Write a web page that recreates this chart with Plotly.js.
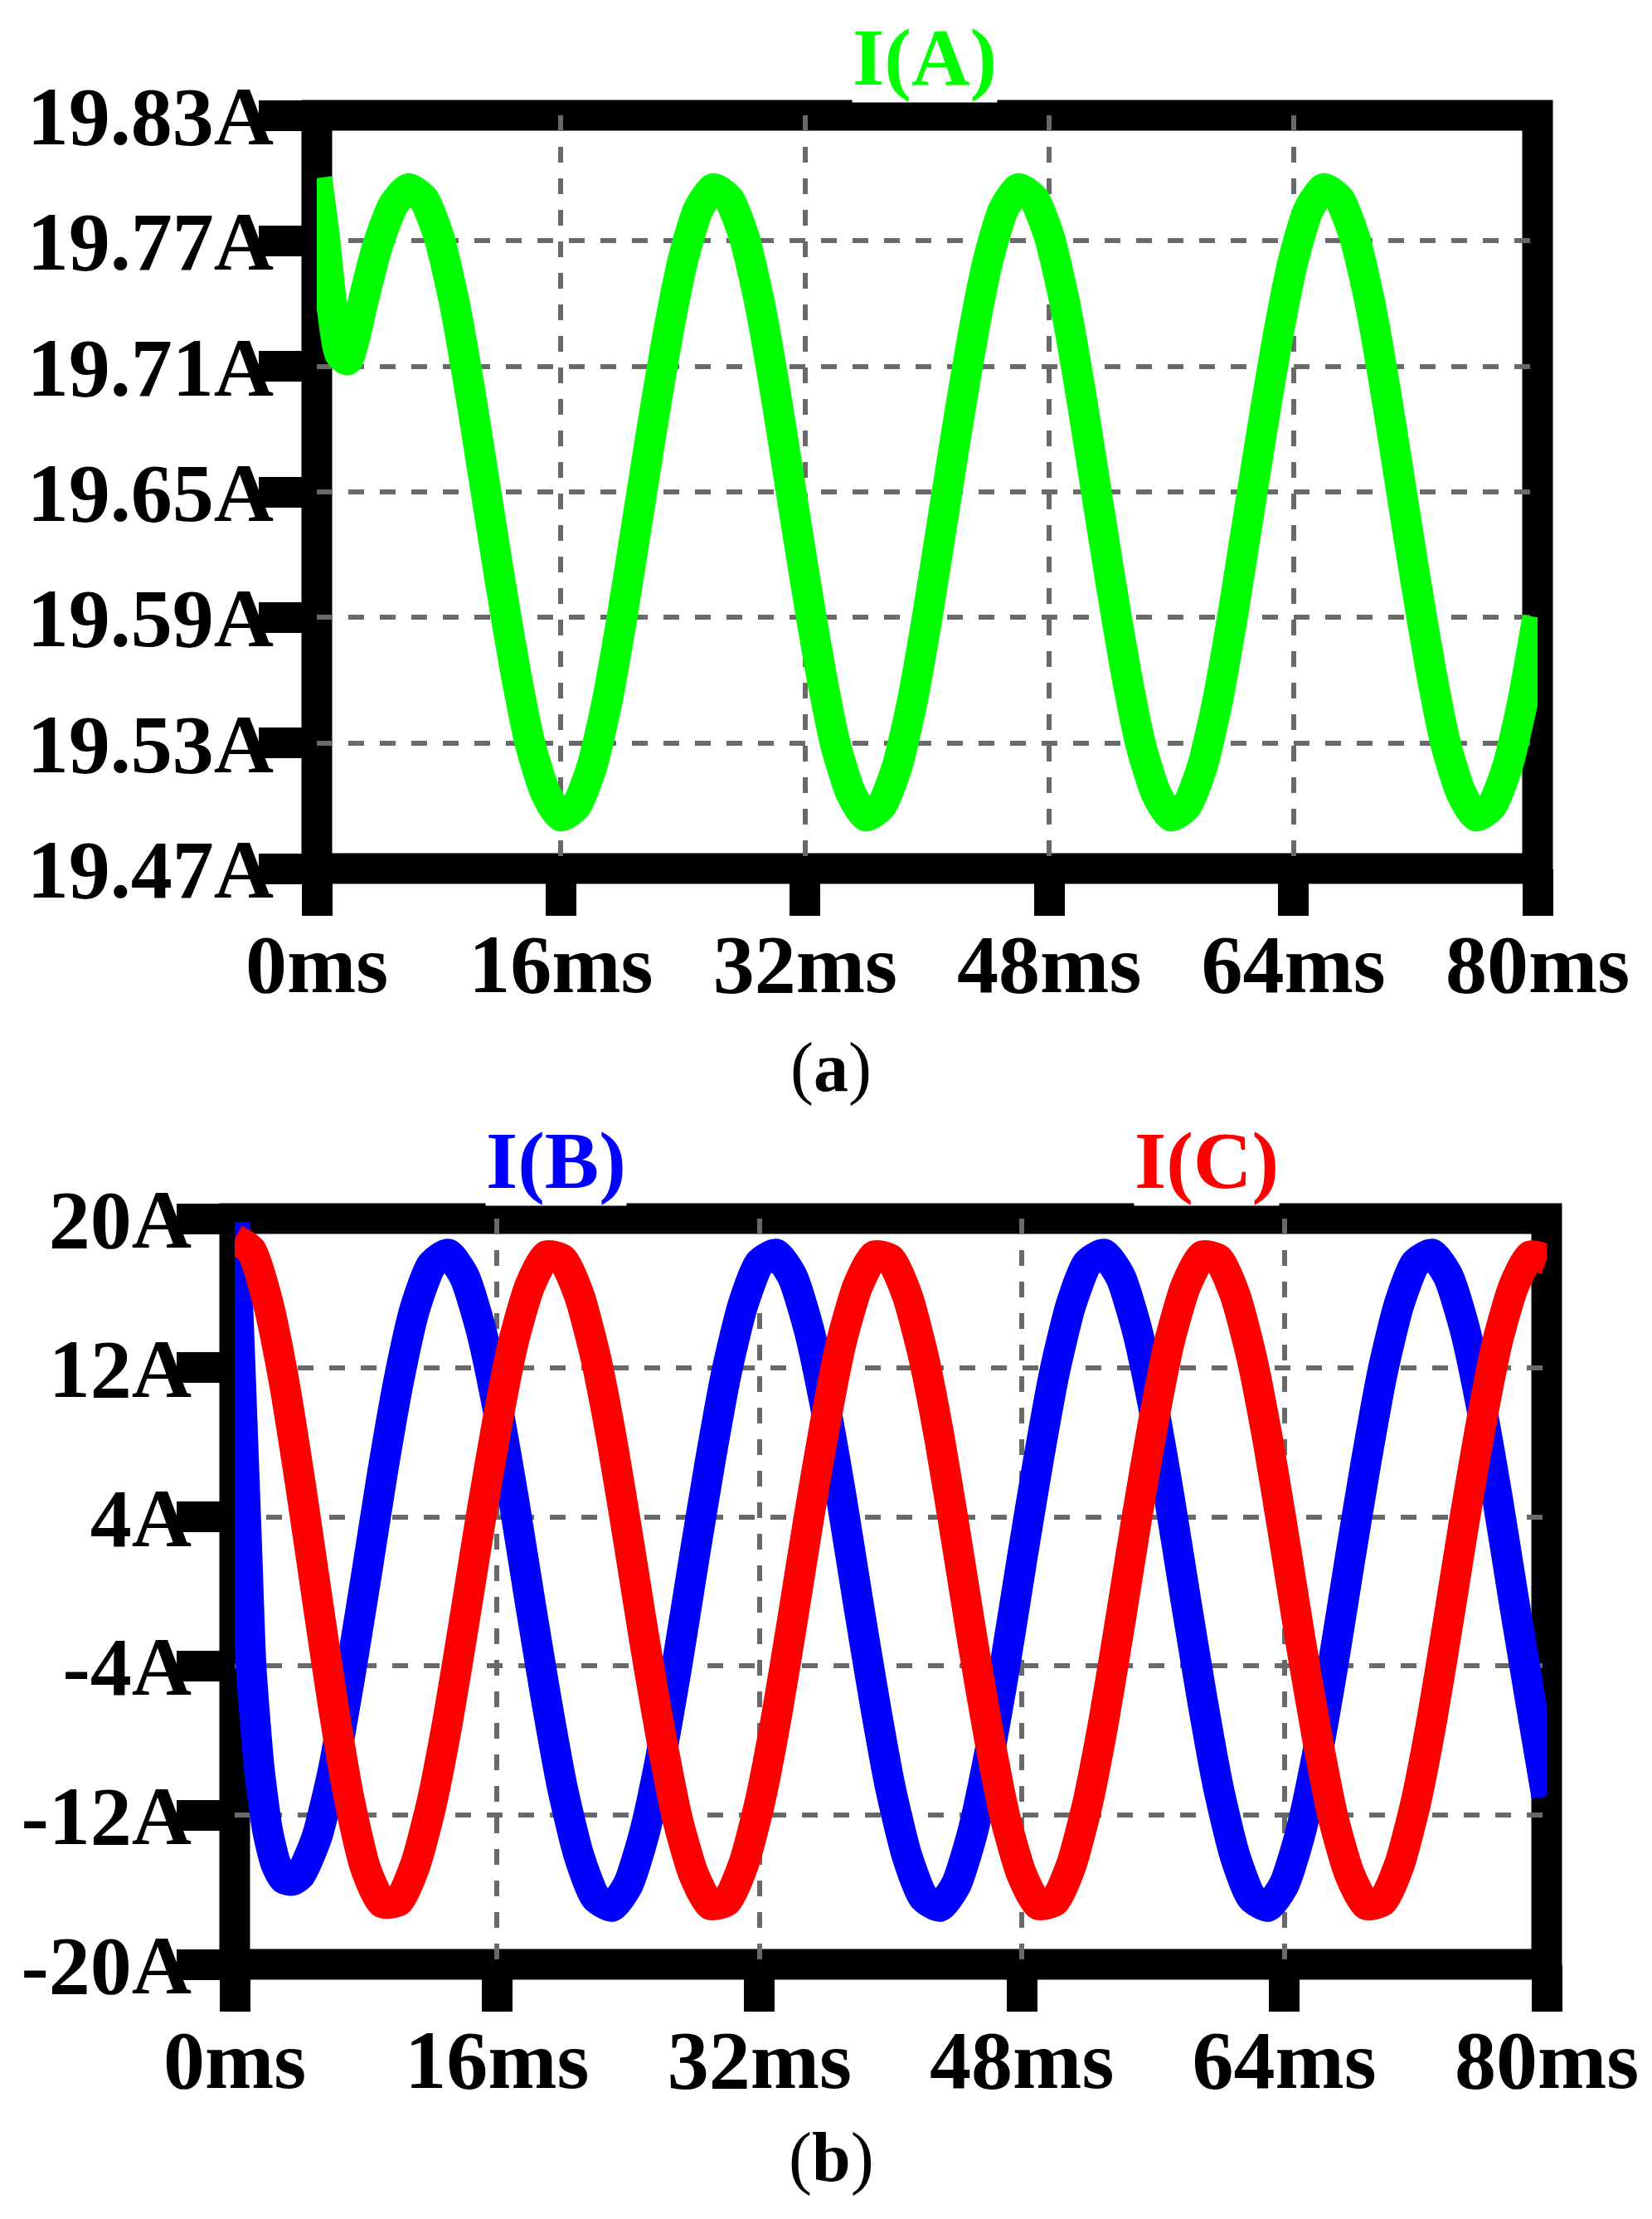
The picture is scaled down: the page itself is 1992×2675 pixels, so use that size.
<!DOCTYPE html>
<html>
<head>
<meta charset="utf-8">
<script src="https://cdn.plot.ly/plotly-3.0.1.min.js"></script>
<style>
  html, body { margin: 0; padding: 0; background: #fff; }
  #chart { width: 1992px; height: 2675px; }
</style>
</head>
<body>
<div id="chart"></div>
<script>
// panel (a): phase A current
const timeA = [0, 0.5, 1, 1.5, 2, 2.5, 3, 4, 5, 6, 7, 8, 9, 10, 11, 12, 13, 14, 15, 16, 17, 18, 19, 20,
  21, 22, 23, 24, 25, 26, 27, 28, 29, 30, 31, 32, 33, 34, 35, 36, 37, 38, 39, 40,
  41, 42, 43, 44, 45, 46, 47, 48, 49, 50, 51, 52, 53, 54, 55, 56, 57, 58, 59, 60,
  61, 62, 63, 64, 65, 66, 67, 68, 69, 70, 71, 72, 73, 74, 75, 76, 77, 78, 79, 80]
const currentA = [19.800, 19.772, 19.738, 19.716, 19.713, 19.724, 19.740, 19.768, 19.787, 19.795,
  19.790, 19.772, 19.741, 19.700, 19.654, 19.608, 19.565, 19.529, 19.506, 19.495,
  19.500, 19.518, 19.549, 19.590, 19.636, 19.682, 19.725, 19.761, 19.785, 19.795,
  19.790, 19.772, 19.741, 19.700, 19.654, 19.608, 19.565, 19.529, 19.506, 19.495,
  19.500, 19.518, 19.549, 19.590, 19.636, 19.682, 19.725, 19.761, 19.785, 19.795,
  19.790, 19.772, 19.741, 19.700, 19.654, 19.608, 19.565, 19.529, 19.506, 19.495,
  19.500, 19.518, 19.549, 19.590, 19.636, 19.682, 19.725, 19.761, 19.785, 19.795,
  19.790, 19.772, 19.741, 19.700, 19.654, 19.608, 19.565, 19.529, 19.506, 19.495,
  19.500, 19.518, 19.549, 19.590]

// panel (b): phases B and C
const timeB = [0, 0.25, 0.5, 0.75, 1, 1.5, 2, 2.5, 3, 3.5, 4, 5, 6, 7, 8, 9, 10,
  11, 12, 13, 14, 15, 16, 17, 18, 19, 20, 21, 22, 23, 24, 25, 26, 27, 28, 29, 30,
  31, 32, 33, 34, 35, 36, 37, 38, 39, 40, 41, 42, 43, 44, 45, 46, 47, 48, 49, 50,
  51, 52, 53, 54, 55, 56, 57, 58, 59, 60, 61, 62, 63, 64, 65, 66, 67, 68, 69, 70,
  71, 72, 73, 74, 75, 76, 77, 78, 79, 80]
const currentB = [19.8, 14, 8, 2, -4, -9.5, -12.8, -14.6, -15.4, -15.5, -15.2, -13.2, -9.6, -4.7, 0.7, 6.3, 11.3,
  15.2, 17.5, 18.1, 16.9, 14.1, 10.0, 5.0, -0.5, -5.8, -10.6, -14.2, -16.4, -16.9, -15.7, -12.9, -8.8, -3.8, 1.7, 7.0, 11.8,
  15.4, 17.6, 18.1, 16.9, 14.1, 10.0, 5.0, -0.5, -5.8, -10.6, -14.2, -16.4, -16.9, -15.7, -12.9, -8.8, -3.8, 1.7, 7.0, 11.8,
  15.4, 17.6, 18.1, 16.9, 14.1, 10.0, 5.0, -0.5, -5.8, -10.6, -14.2, -16.4, -16.9, -15.7, -12.9, -8.8, -3.8, 1.7, 7.0, 11.8,
  15.4, 17.6, 18.1, 16.9, 14.1, 10.0, 5.0, -0.5, -5.8, -11.0]

const timeC = [0, 1, 2, 3, 4, 5, 6, 7, 8, 9, 10, 11, 12, 13, 14, 15, 16, 17, 18, 19, 20,
  21, 22, 23, 24, 25, 26, 27, 28, 29, 30, 31, 32, 33, 34, 35, 36, 37, 38, 39, 40,
  41, 42, 43, 44, 45, 46, 47, 48, 49, 50, 51, 52, 53, 54, 55, 56, 57, 58, 59, 60,
  61, 62, 63, 64, 65, 66, 67, 68, 69, 70, 71, 72, 73, 74, 75, 76, 77, 78, 79, 80]
const currentC = [18.9, 18.3, 15.6, 11.3, 5.8, -0.2, -6.1, -11.2, -14.9, -16.7,
  -16.6, -14.7, -11.4, -6.9, -1.6, 3.9, 9.0, 13.4, 16.4, 18.0,
  17.8, 15.9, 12.6, 8.1, 2.8, -2.7, -7.8, -12.2, -15.2, -16.8,
  -16.6, -14.7, -11.4, -6.9, -1.6, 3.9, 9.0, 13.4, 16.4, 18.0,
  17.8, 15.9, 12.6, 8.1, 2.8, -2.7, -7.8, -12.2, -15.2, -16.8,
  -16.6, -14.7, -11.4, -6.9, -1.6, 3.9, 9.0, 13.4, 16.4, 18.0,
  17.8, 15.9, 12.6, 8.1, 2.8, -2.7, -7.8, -12.2, -15.2, -16.8,
  -16.6, -14.7, -11.4, -6.9, -1.6, 3.9, 9.0, 13.4, 16.4, 18.0, 17.8]

// tick labels
const msTicks = [0, 16, 32, 48, 64, 80]
const msLabels = ["0ms", "16ms", "32ms", "48ms", "64ms", "80ms"]
const ampTicksA = [19.47, 19.53, 19.59, 19.65, 19.71, 19.77, 19.83]
const ampLabelsA = ["19.47A", "19.53A", "19.59A", "19.65A", "19.71A", "19.77A", "19.83A"]
const ampTicksB = [-20, -12, -4, 4, 12, 20]
const ampLabelsB = ["-20A", "-12A", "-4A", "4A", "12A", "20A"]

const W = 1992
const H = 2675
const FRAME = 37

function createChart() {
    const tickFont = { family: "Liberation Serif", size: 100, color: "#000", weight: "bold" }

    function timeAxis(left, right, anchor) {
        return {
            domain: [left / W, right / W],
            range: [0, 80],
            anchor: anchor,
            tickvals: msTicks,
            ticktext: msLabels,
            ticks: "outside",
            ticklen: 56,
            tickwidth: FRAME,
            tickcolor: "#000",
            ticklabelstandoff: -28,
            tickfont: tickFont,
            showgrid: true,
            gridcolor: "#696969",
            gridwidth: 6,
            griddash: "19px,19px",
            zeroline: false,
            showline: false,
            fixedrange: true
        }
    }

    function ampAxis(top, bottom, range, vals, labels, anchor) {
        return {
            domain: [1 - bottom / H, 1 - top / H],
            range: range,
            anchor: anchor,
            tickvals: vals,
            ticktext: labels,
            ticks: "outside",
            ticklen: 69,
            tickwidth: FRAME,
            tickcolor: "#000",
            ticklabelstandoff: -38,
            tickfont: tickFont,
            showgrid: true,
            gridcolor: "#696969",
            gridwidth: 6,
            griddash: "19px,19px",
            zeroline: false,
            showline: false,
            fixedrange: true
        }
    }

    const traceA = {
        x: timeA, y: currentA, xaxis: "x", yaxis: "y",
        mode: "lines", line: { color: "#00ff00", width: 37, shape: "spline", smoothing: 0.6 },
        name: "I(A)"
    }
    const traceB = {
        x: timeB, y: currentB, xaxis: "x2", yaxis: "y2",
        mode: "lines", line: { color: "#0000ff", width: 37, shape: "spline", smoothing: 0.6 },
        name: "I(B)"
    }
    const traceC = {
        x: timeC, y: currentC, xaxis: "x2", yaxis: "y2",
        mode: "lines", line: { color: "#ff0000", width: 37, shape: "spline", smoothing: 0.6 },
        name: "I(C)"
    }

    // thick black box, centred on the range limits
    const frame = (xr, yr) => ({
        type: "rect", xref: xr, yref: yr, x0: 0, x1: 1, y0: 0, y1: 1,
        line: { color: "#000", width: FRAME }, fillcolor: "rgba(0,0,0,0)", layer: "below"
    })

    const titleFont = (c) => ({ family: "Liberation Serif", size: 98, color: c, weight: "bold" })
    const capFont = { family: "Liberation Serif", size: 84, color: "#000" }

    const layout = {
        width: W,
        height: H,
        margin: { l: 0, r: 0, t: 0, b: 0 },
        paper_bgcolor: "#fff",
        plot_bgcolor: "#fff",
        showlegend: false,
        xaxis: timeAxis(382, 1854, "y"),
        yaxis: ampAxis(139, 1047, [19.47, 19.83], ampTicksA, ampLabelsA, "x"),
        xaxis2: timeAxis(283, 1865, "y2"),
        yaxis2: ampAxis(1469, 2368, [-20, 20], ampTicksB, ampLabelsB, "x2"),
        shapes: [frame("x domain", "y domain"), frame("x2 domain", "y2 domain")],
        annotations: [
            { text: "I(A)", xref: "paper", yref: "paper", x: 1115 / W, y: 1 - 124 / H,
              xanchor: "center", yanchor: "bottom", showarrow: false, bgcolor: "#fff", borderpad: 0,
              font: titleFont("#00ff00") },
            { text: "I(B)", xref: "paper", yref: "paper", x: 670 / W, y: 1 - 1454 / H,
              xanchor: "center", yanchor: "bottom", showarrow: false, bgcolor: "#fff", borderpad: 0,
              font: titleFont("#0000ff") },
            { text: "I(C)", xref: "paper", yref: "paper", x: 1455 / W, y: 1 - 1454 / H,
              xanchor: "center", yanchor: "bottom", showarrow: false, bgcolor: "#fff", borderpad: 0,
              font: titleFont("#ff0000") },
            { text: "(<b>a</b>)", xref: "paper", yref: "paper", x: 1002 / W, y: 1 - 1287 / H,
              xanchor: "center", yanchor: "middle", showarrow: false, font: capFont },
            { text: "(<b>b</b>)", xref: "paper", yref: "paper", x: 1002 / W, y: 1 - 2601 / H,
              xanchor: "center", yanchor: "middle", showarrow: false, font: capFont }
        ]
    }

    Plotly.newPlot("chart", [traceA, traceB, traceC], layout, { displayModeBar: false, staticPlot: true })
}

createChart()
</script>
</body>
</html>
